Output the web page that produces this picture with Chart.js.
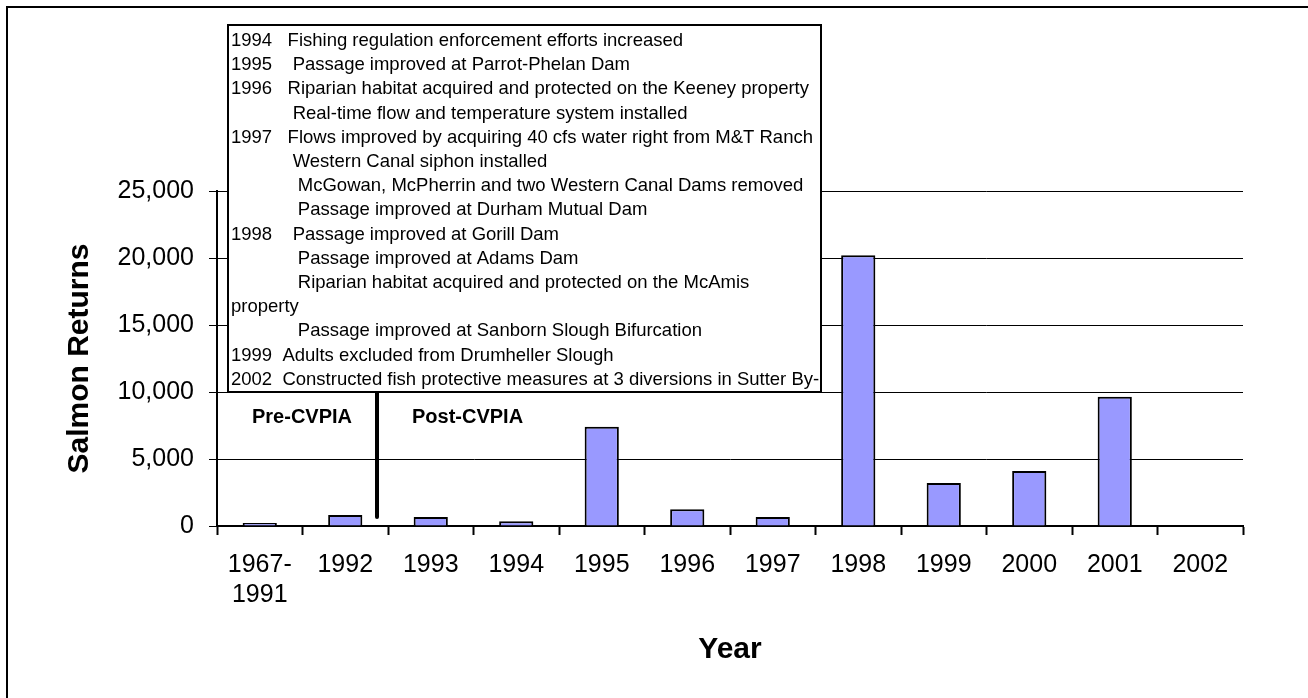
<!DOCTYPE html>
<html>
<head>
<meta charset="utf-8">
<script src="https://cdn.jsdelivr.net/npm/chart.js@4"></script>
<style>
  html, body { margin: 0; padding: 0; background: #fff; }
  canvas { display: block; }
</style>
</head>
<body>
<canvas id="salmonChart" width="1308" height="698"></canvas>
<script>
const years = [['1967-', '1991'], '1992', '1993', '1994', '1995', '1996', '1997', '1998', '1999', '2000', '2001', '2002'];
const salmonReturns = [230, 820, 680, 350, 7400, 1250, 680, 20200, 3200, 4100, 9650, 0];
const yMax = 25000;
const yStep = 5000;
const eraLabels = ['Pre-CVPIA', 'Post-CVPIA'];
const notes = [
  '1994   Fishing regulation enforcement efforts increased',
  '1995    Passage improved at Parrot-Phelan Dam',
  '1996   Riparian habitat acquired and protected on the Keeney property',
  '            Real-time flow and temperature system installed',
  '1997   Flows improved by acquiring 40 cfs water right from M&T Ranch',
  '            Western Canal siphon installed',
  '             McGowan, McPherrin and two Western Canal Dams removed',
  '             Passage improved at Durham Mutual Dam',
  '1998    Passage improved at Gorill Dam',
  '             Passage improved at Adams Dam',
  '             Riparian habitat acquired and protected on the McAmis',
  'property',
  '             Passage improved at Sanborn Slough Bifurcation',
  '1999  Adults excluded from Drumheller Slough',
  '2002  Constructed fish protective measures at 3 diversions in Sutter By-'
];

const FONT = '"Liberation Sans", Arial, sans-serif';

// frame, divider, era labels and the notes box drawn on top
const overlay = {
  id: 'overlay',
  afterDraw(chart) {
    const ctx = chart.ctx;
    ctx.save();
    ctx.strokeStyle = '#000';
    ctx.lineWidth = 2;
    ctx.strokeRect(7, 7, 1400, 800);

    ctx.lineWidth = 4;
    ctx.lineCap = 'round';
    ctx.beginPath();
    ctx.moveTo(377, 390);
    ctx.lineTo(377, 517);
    ctx.stroke();

    ctx.fillStyle = '#000';
    ctx.textBaseline = 'middle';
    ctx.font = 'bold 20px ' + FONT;
    ctx.fillText(eraLabels[0], 252, 417);
    ctx.fillText(eraLabels[1], 412, 417);

    ctx.fillStyle = '#fff';
    ctx.fillRect(228, 25, 593, 367);
    ctx.lineWidth = 2;
    ctx.lineCap = 'butt';
    ctx.strokeRect(228, 25, 593, 367);
    ctx.fillStyle = '#000';
    ctx.font = '18.5px ' + FONT;
    notes.forEach((line, i) => ctx.fillText(line, 231, 41 + i * 24.2));
    ctx.restore();
  }
};

const ctx = document.getElementById('salmonChart').getContext('2d');

new Chart(ctx, {
  type: 'bar',
  data: {
    labels: years,
    datasets: [{
      label: 'Salmon Returns',
      data: salmonReturns,
      backgroundColor: '#9999FF',
      borderColor: '#000',
      borderWidth: 2,
      borderSkipped: 'start',
      barPercentage: 0.4,
      categoryPercentage: 1
    }]
  },
  options: {
    responsive: false,
    animation: false,
    devicePixelRatio: 1,
    layout: { padding: { left: 20, top: 191, right: 65, bottom: 10 } },
    plugins: {
      legend: { display: false },
      tooltip: { enabled: false }
    },
    scales: {
      x: {
        afterFit(scale) {
          scale.height = 162;
          scale.paddingLeft = 0;
          scale.paddingRight = 0;
        },
        grid: {
          drawOnChartArea: false,
          drawTicks: true,
          tickLength: 9,
          tickWidth: 2,
          tickColor: '#000',
          color: '#000'
        },
        border: { display: true, color: '#000', width: 2 },
        ticks: {
          color: '#000',
          font: { family: FONT, size: 25 },
          padding: 15,
          maxRotation: 0,
          autoSkip: false
        },
        title: {
          display: true,
          text: 'Year',
          color: '#000',
          font: { family: FONT, size: 30, weight: 'bold' },
          padding: { top: 0, bottom: 20 }
        }
      },
      y: {
        min: 0,
        max: yMax,
        afterFit(scale) {
          scale.width = 197;
          scale.paddingTop = 0;
          scale.paddingBottom = 0;
        },
        grid: {
          color: '#000',
          lineWidth: 1,
          drawTicks: true,
          tickLength: 8,
          tickColor: '#000'
        },
        border: { display: true, color: '#000', width: 2 },
        ticks: {
          stepSize: yStep,
          color: '#000',
          font: { family: FONT, size: 25 },
          padding: 15,
          callback: value => value.toLocaleString('en-US')
        },
        title: {
          display: true,
          text: 'Salmon Returns',
          color: '#000',
          font: { family: FONT, size: 30, weight: 'bold' },
          padding: { top: 42, bottom: 0 }
        }
      }
    }
  },
  plugins: [overlay]
});
</script>
</body>
</html>
